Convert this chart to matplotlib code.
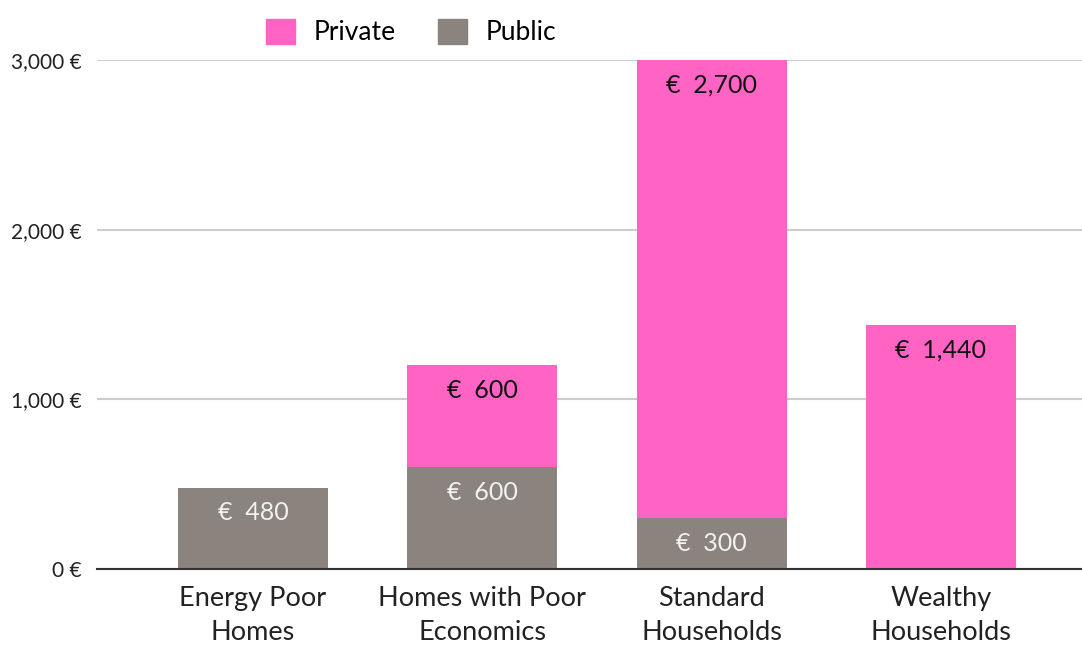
import numpy as np
import matplotlib
matplotlib.use('Agg')
import matplotlib.pyplot as plt
from matplotlib.patches import Patch
from matplotlib.ticker import FuncFormatter

plt.rcParams['font.family'] = ['Lato', 'DejaVu Sans']

# Data
categories = ['Energy Poor\nHomes', 'Homes with Poor\nEconomics', 'Standard\nHouseholds', 'Wealthy\nHouseholds']
public = [480, 600, 300, 0]
private = [0, 600, 2700, 1440]

pink = '#FF63C4'
grey = '#8A837E'

fig = plt.figure(figsize=(10.82, 6.45), dpi=100)
ax = fig.add_axes([97 / 1082, 1 - 569 / 645, (1082 - 97) / 1082, (569 - 60) / 645])

x = np.arange(len(categories))
w = 0.654
ax.bar(x, public, w, color=grey, zorder=2)
ax.bar(x, private, w, bottom=public, color=pink, zorder=2)

# value labels, placed just under each segment's top
off = 25 * 3000 / 509
for i in range(len(categories)):
    if public[i] > 0:
        ax.text(x[i], public[i] - off, f'€  {public[i]:,}', ha='center', va='center',
                color='#F2F2F2', fontsize=18)
    if private[i] > 0:
        ax.text(x[i], public[i] + private[i] - off, f'€  {private[i]:,}', ha='center', va='center',
                color='#111111', fontsize=18)

ax.set_xlim(-0.68, 3.615)
ax.set_ylim(0, 3000)
ax.set_yticks([0, 1000, 2000, 3000])
ax.yaxis.set_major_formatter(FuncFormatter(lambda v, p: f'{int(v):,} €'))
ax.grid(axis='y', color='#CCCCCC', linewidth=1.5, zorder=0)
ax.set_xticks(x)
ax.set_xticklabels(categories, fontsize=19.5, color='#222222', linespacing=1.45)
ax.tick_params(axis='x', length=0, pad=12)
ax.tick_params(axis='y', length=0, pad=11, labelsize=15, labelcolor='#222222')
for s in ['top', 'right', 'left']:
    ax.spines[s].set_visible(False)
ax.spines['bottom'].set_color('#333333')
ax.spines['bottom'].set_linewidth(1.5)
ax.spines['bottom'].set_zorder(3)

handles = [Patch(color=pink, label='Private'), Patch(color=grey, label='Public')]
fig.legend(handles=handles, loc='center', bbox_to_anchor=(411 / 1082, 1 - 32 / 645), ncol=2,
           frameon=False, fontsize=19, handlelength=1.1, handleheight=1.1,
           handletextpad=0.7, columnspacing=1.6)

fig.savefig('out.png', dpi=100)
